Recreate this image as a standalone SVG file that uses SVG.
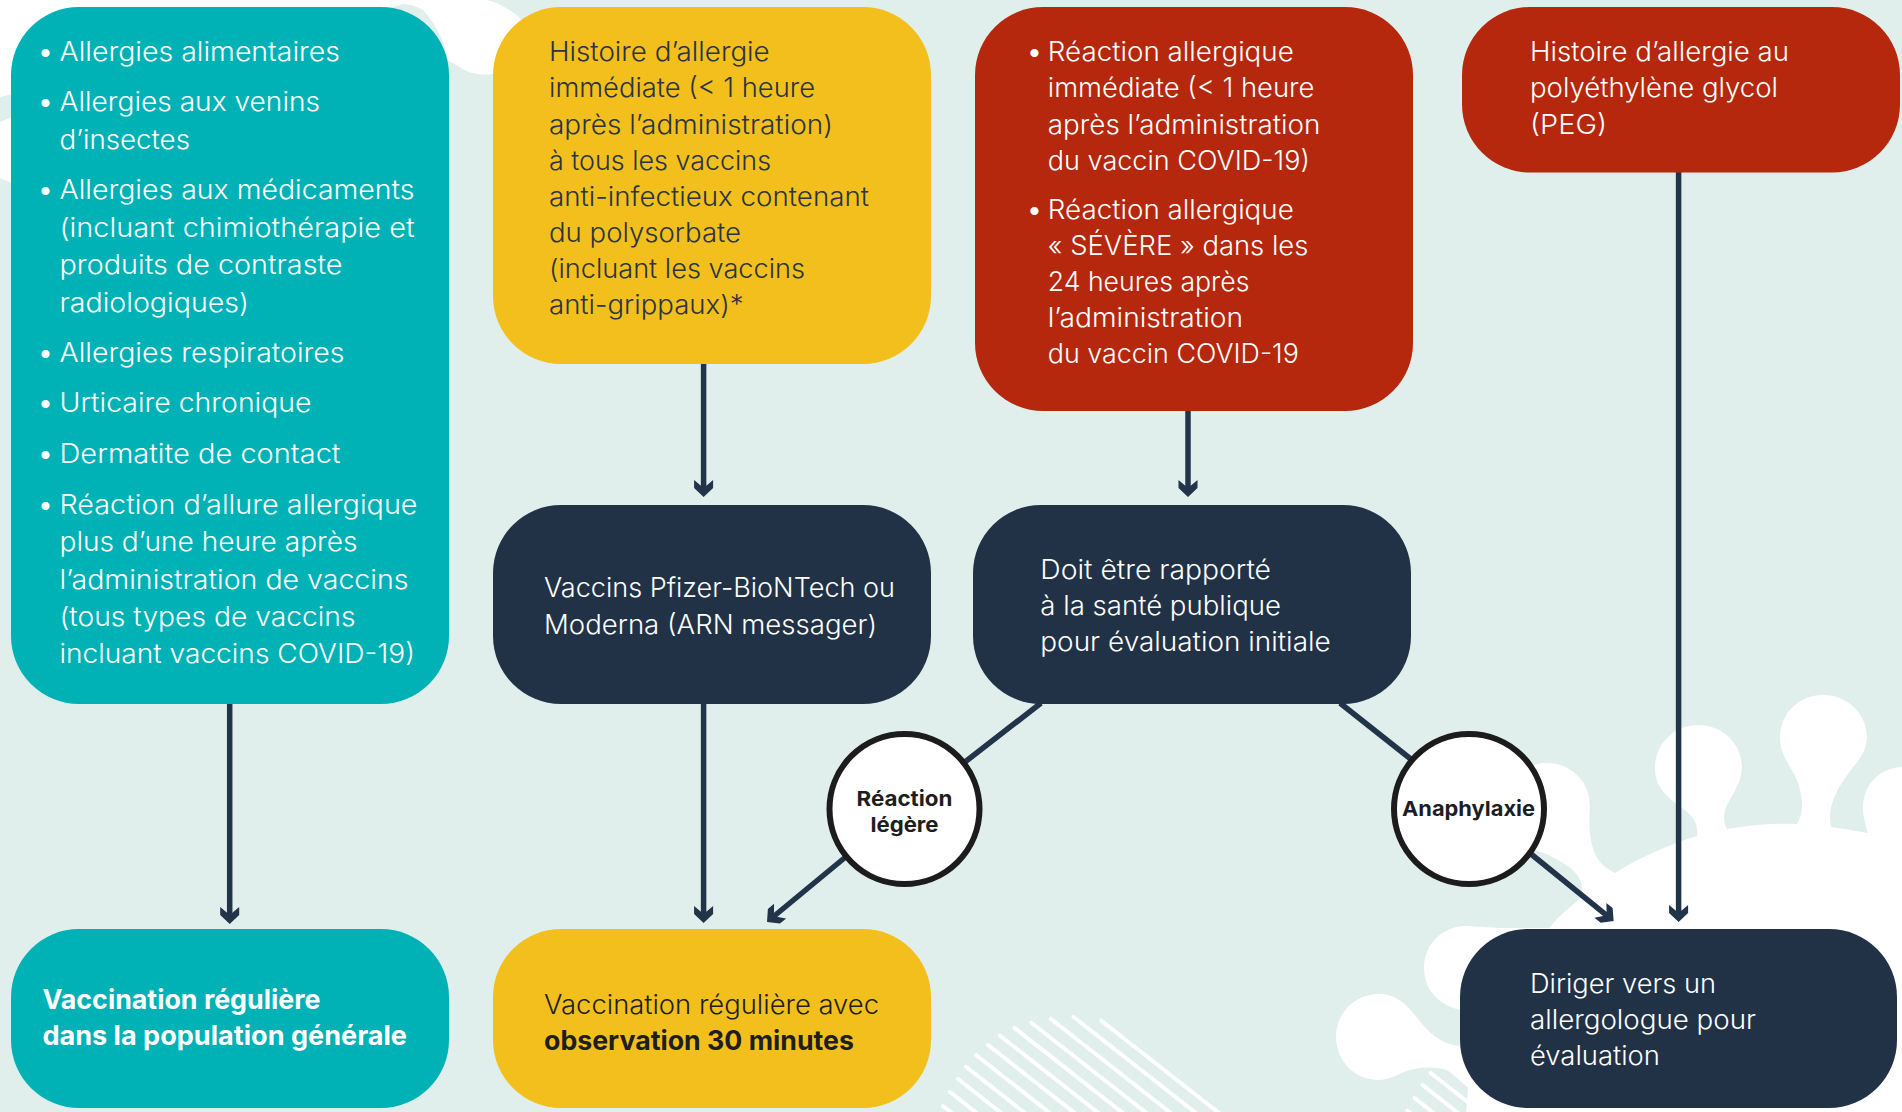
<svg xmlns="http://www.w3.org/2000/svg" width="1902" height="1112" viewBox="0 0 1902 1112">
<style>
text{font-family:"Inter","Liberation Sans",sans-serif;font-size:26.5px;font-weight:300;fill:#fff}
.d{fill:#2a3443}
.b{font-weight:700}
.k{fill:#1e1e1e}
.u{font-size:30px}
.c{font-size:20.5px;font-weight:700;fill:#1e1e1e;text-anchor:middle}
.l{fill:none;stroke:#22344a;stroke-width:5.5}
.s{fill:none;stroke:#fff;stroke-width:4;stroke-linecap:round}
.ring{fill:#fff;stroke:#1c1c1c;stroke-width:6}
</style>
<defs>
<marker id="arr" markerUnits="userSpaceOnUse" viewBox="-14 -12 24 24" markerWidth="24" markerHeight="24" refX="0" refY="0" orient="auto">
<path d="M7,0 L-2,-9.5 L-10,-9.5 L-2,0 L-10,9.5 L-2,9.5 Z" fill="#22344a"/>
</marker>
</defs>
<rect width="1902" height="1112" fill="#e0efeb"/>
<g id="background">
<path fill="#fff" d="M0,0 H487 C497,2 508,8 520,18 L530,50 L493,74 C478,76 468,73 458,66 C452,62 449,62 448,60 C445,42 437,26 423,10 C416,6 410,4 403,4 L380,10 L30,90 L0,97 Z"/>
<path fill="#fff" d="M0,122 L30,110 V190 L0,178 Z"/>
<path fill="#fff" d="M1549,928 C1560,915 1572,905 1582,897 C1584,882 1578,874 1569,867 C1558,859 1546,853 1534,850 L1512,815 C1508,780 1525,763 1546,763 C1572,763 1590,782 1590,807 C1589,822 1589,830 1591,840 C1594,858 1602,867 1615,873 C1640,857 1668,845 1697,836 C1699,826 1694,815 1678,805 C1664,794 1655,785 1655,768 C1655,744 1674,725 1698,725 C1723,725 1742,744 1742,768 C1741,782 1733,794 1727,805 C1723,814 1723,822 1727,829 C1750,825 1775,823 1797,824 C1804,812 1804,797 1796,778 C1788,762 1780,753 1780,738 C1780,713 1799,695 1823,695 C1847,695 1867,713 1867,738 C1866,752 1858,762 1850,771 C1836,790 1827,807 1831,827 C1845,829 1857,831 1868,833 C1865,823 1863,816 1863,808 C1863,784 1880,768 1902,767 V1112 H1466 L1468,1088 C1462,1082 1455,1076 1447,1070 C1436,1067 1425,1067 1414,1069 C1402,1071 1392,1080 1379,1080 C1354,1080 1336,1060 1336,1037 C1336,1013 1355,994 1379,994 C1396,994 1406,1004 1415,1015 C1427,1032 1441,1044 1459,1046 L1480,1012 C1440,1012 1424,990 1424,968 C1424,944 1443,926 1466,926 L1500,928 Z"/>
<g class="s">
<path d="M1101.4,1020.7 l200,157"/><path d="M1073.6,1017 l200,157"/><path d="M1050.7,1018.7 l200,157"/><path d="M1031.4,1022.7 l200,157"/><path d="M1014.6,1028 l200,157"/><path d="M1000,1035.7 l200,157"/><path d="M988,1045 l200,157"/><path d="M976,1055 l200,157"/><path d="M966,1066.7 l200,157"/><path d="M958,1079 l200,157"/><path d="M950,1092 l200,157"/><path d="M943,1106 l200,157"/>
<path d="M1430.7,1073 l60,47"/><path d="M1422.5,1085 l60,47"/><path d="M1414.6,1098 l60,47"/><path d="M1407.5,1110.7 l60,47"/>
</g>
</g>
<g id="connectors">
<line class="l" x1="229.7" y1="704" x2="229.7" y2="917" marker-end="url(#arr)"/>
<line class="l" x1="703.6" y1="364" x2="703.6" y2="490" marker-end="url(#arr)"/>
<line class="l" x1="703.6" y1="704" x2="703.6" y2="916" marker-end="url(#arr)"/>
<line class="l" x1="1188" y1="410" x2="1188" y2="490" marker-end="url(#arr)"/>
<line class="l" x1="1678.6" y1="172" x2="1678.6" y2="915" marker-end="url(#arr)"/>
<line class="l" x1="1041" y1="703" x2="965" y2="762"/>
<line class="l" x1="1340" y1="703" x2="1412" y2="760"/>
<line class="l" x1="845" y1="857.5" x2="772.4" y2="917.5" marker-end="url(#arr)"/>
<line class="l" x1="1531" y1="854" x2="1608.2" y2="916.6" marker-end="url(#arr)"/>
</g>
<g id="n-allergies">
<rect x="11" y="7" width="438" height="697" rx="68" ry="68" fill="#00b2b6"/>
<text class="u" x="37" y="62">•</text><text x="59.5" y="61" textLength="280.5" lengthAdjust="spacingAndGlyphs">Allergies alimentaires</text>
<text class="u" x="37" y="112">•</text><text x="59.5" y="111" textLength="260.5" lengthAdjust="spacingAndGlyphs">Allergies aux venins</text>
<text x="59.5" y="148.5" textLength="130.5" lengthAdjust="spacingAndGlyphs">d’insectes</text>
<text class="u" x="37" y="199.5">•</text><text x="59.5" y="198.5" textLength="355" lengthAdjust="spacingAndGlyphs">Allergies aux médicaments</text>
<text x="59.5" y="236.5" textLength="355" lengthAdjust="spacingAndGlyphs">(incluant chimiothérapie et</text>
<text x="59.5" y="274" textLength="283" lengthAdjust="spacingAndGlyphs">produits de contraste</text>
<text x="59.5" y="311.5" textLength="189.5" lengthAdjust="spacingAndGlyphs">radiologiques)</text>
<text class="u" x="37" y="363">•</text><text x="59.5" y="362" textLength="285" lengthAdjust="spacingAndGlyphs">Allergies respiratoires</text>
<text class="u" x="37" y="413">•</text><text x="59.5" y="412" textLength="252" lengthAdjust="spacingAndGlyphs">Urticaire chronique</text>
<text class="u" x="37" y="464">•</text><text x="59.5" y="463" textLength="281" lengthAdjust="spacingAndGlyphs">Dermatite de contact</text>
<text class="u" x="37" y="514.5">•</text><text x="59.5" y="513.5" textLength="358" lengthAdjust="spacingAndGlyphs">Réaction d’allure allergique</text>
<text x="59.5" y="551" textLength="298" lengthAdjust="spacingAndGlyphs">plus d’une heure après</text>
<text x="59.5" y="589" textLength="349" lengthAdjust="spacingAndGlyphs">l’administration de vaccins</text>
<text x="59.5" y="626" textLength="296" lengthAdjust="spacingAndGlyphs">(tous types de vaccins</text>
<text x="59.5" y="663" textLength="355.5" lengthAdjust="spacingAndGlyphs">incluant vaccins COVID-19)</text>
</g>
<g id="n-histoire-polysorbate">
<rect x="493" y="7" width="438" height="357" rx="68" ry="68" fill="#f3bf1c"/>
<text class="d" x="549" y="61" textLength="220.7" lengthAdjust="spacingAndGlyphs">Histoire d’allergie</text>
<text class="d" x="549" y="97.4" textLength="266" lengthAdjust="spacingAndGlyphs">immédiate (&lt; 1 heure</text>
<text class="d" x="549" y="134" textLength="284" lengthAdjust="spacingAndGlyphs">après l’administration)</text>
<text class="d" x="549" y="169.6" textLength="222" lengthAdjust="spacingAndGlyphs">à tous les vaccins</text>
<text class="d" x="549" y="206" textLength="320" lengthAdjust="spacingAndGlyphs">anti-infectieux contenant</text>
<text class="d" x="549" y="242" textLength="192" lengthAdjust="spacingAndGlyphs">du polysorbate</text>
<text class="d" x="549" y="278" textLength="256" lengthAdjust="spacingAndGlyphs">(incluant les vaccins</text>
<text class="d" x="549" y="314" textLength="194.6" lengthAdjust="spacingAndGlyphs">anti-grippaux)*</text>
</g>
<g id="n-reaction-immediate">
<rect x="975" y="7" width="438" height="404" rx="68" ry="68" fill="#b5280d"/>
<text class="u" x="1026" y="62">•</text><text x="1047.8" y="61" textLength="246" lengthAdjust="spacingAndGlyphs">Réaction allergique</text>
<text x="1047.8" y="97.4" textLength="266.6" lengthAdjust="spacingAndGlyphs">immédiate (&lt; 1 heure</text>
<text x="1047.8" y="134" textLength="272.6" lengthAdjust="spacingAndGlyphs">après l’administration</text>
<text x="1047.8" y="169.6" textLength="262" lengthAdjust="spacingAndGlyphs">du vaccin COVID-19)</text>
<text class="u" x="1026" y="220">•</text><text x="1047.8" y="219" textLength="246" lengthAdjust="spacingAndGlyphs">Réaction allergique</text>
<text x="1047.8" y="255" textLength="260.6" lengthAdjust="spacingAndGlyphs">« SÉVÈRE » dans les</text>
<text x="1047.8" y="291" textLength="201.6" lengthAdjust="spacingAndGlyphs">24 heures après</text>
<text x="1047.8" y="327" textLength="195.2" lengthAdjust="spacingAndGlyphs">l’administration</text>
<text x="1047.8" y="363" textLength="251" lengthAdjust="spacingAndGlyphs">du vaccin COVID-19</text>
</g>
<g id="n-peg">
<rect x="1462" y="7" width="438" height="165.5" rx="68" ry="68" fill="#b5280d"/>
<text x="1530" y="61" textLength="259" lengthAdjust="spacingAndGlyphs">Histoire d’allergie au</text>
<text x="1530" y="97.4" textLength="248" lengthAdjust="spacingAndGlyphs">polyéthylène glycol</text>
<text x="1530" y="134" textLength="77" lengthAdjust="spacingAndGlyphs">(PEG)</text>
</g>
<g id="n-vaccins">
<rect x="493" y="505" width="438" height="199" rx="68" ry="68" fill="#213247"/>
<text x="544" y="597" textLength="351" lengthAdjust="spacingAndGlyphs">Vaccins Pfizer-BioNTech ou</text>
<text x="544" y="634" textLength="333" lengthAdjust="spacingAndGlyphs">Moderna (ARN messager)</text>
</g>
<g id="n-sante-publique">
<rect x="973" y="505" width="438" height="199" rx="68" ry="68" fill="#213247"/>
<text x="1040.3" y="578.7" textLength="230.7" lengthAdjust="spacingAndGlyphs">Doit être rapporté</text>
<text x="1040.3" y="614.7" textLength="240.7" lengthAdjust="spacingAndGlyphs">à la santé publique</text>
<text x="1040.3" y="651.2" textLength="290.4" lengthAdjust="spacingAndGlyphs">pour évaluation initiale</text>
</g>
<g id="n-reaction-legere">
<circle class="ring" cx="904.5" cy="809" r="75"/>
<text class="c" x="904.5" y="805.5" textLength="96" lengthAdjust="spacingAndGlyphs">Réaction</text>
<text class="c" x="904.5" y="832" textLength="68" lengthAdjust="spacingAndGlyphs">légère</text>
</g>
<g id="n-anaphylaxie">
<circle class="ring" cx="1469" cy="809" r="75"/>
<text class="c" x="1468.5" y="816" textLength="133" lengthAdjust="spacingAndGlyphs">Anaphylaxie</text>
</g>
<g id="n-vaccination-generale">
<rect x="11" y="929" width="438" height="179" rx="68" ry="68" fill="#00b2b6"/>
<text class="b" x="42.4" y="1008.5" textLength="278" lengthAdjust="spacingAndGlyphs">Vaccination régulière</text>
<text class="b" x="42.4" y="1044.5" textLength="364.6" lengthAdjust="spacingAndGlyphs">dans la population générale</text>
</g>
<g id="n-observation">
<rect x="493" y="929" width="438" height="179" rx="68" ry="68" fill="#f3bf1c"/>
<text class="k" x="544" y="1014" textLength="335" lengthAdjust="spacingAndGlyphs">Vaccination régulière avec</text>
<text class="k b" x="544" y="1050" textLength="310" lengthAdjust="spacingAndGlyphs">observation 30 minutes</text>
</g>
<g id="n-allergologue">
<rect x="1460" y="929" width="437" height="179" rx="68" ry="68" fill="#213247"/>
<text x="1530" y="993" textLength="186" lengthAdjust="spacingAndGlyphs">Diriger vers un</text>
<text x="1530" y="1029" textLength="226" lengthAdjust="spacingAndGlyphs">allergologue pour</text>
<text x="1530" y="1065" textLength="130" lengthAdjust="spacingAndGlyphs">évaluation</text>
</g>
</svg>
